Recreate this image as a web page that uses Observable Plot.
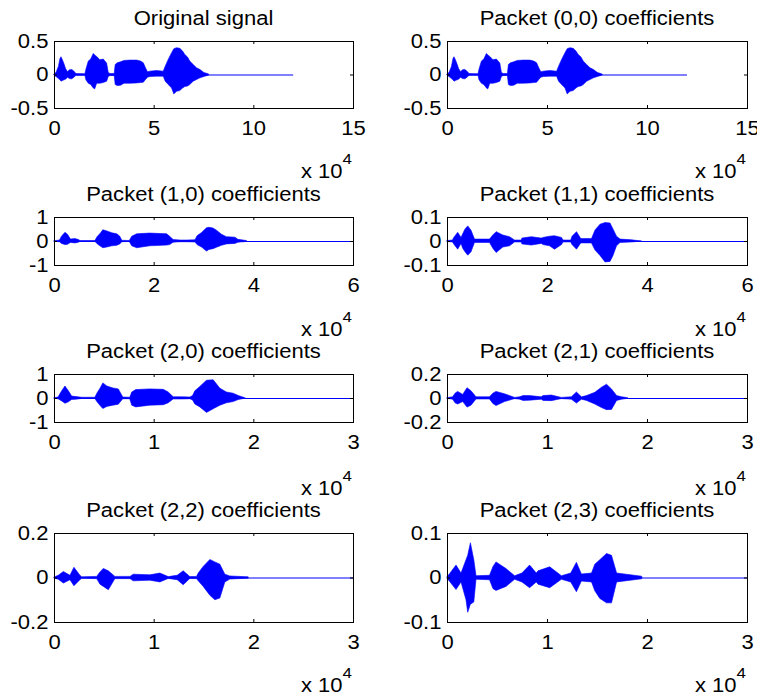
<!DOCTYPE html>
<html><head><meta charset="utf-8">
<script src="https://cdn.jsdelivr.net/npm/d3@7"></script>
<script src="https://cdn.jsdelivr.net/npm/@observablehq/plot@0.6"></script>
<style>
html,body{margin:0;padding:0;background:#fff;}
#root{position:relative;width:757px;height:697px;overflow:hidden;background:#fff;}
#root svg{position:absolute;}
</style></head><body><div id="root"></div>
<script>
// ---------- DATA (x in units of 10^4 samples; envelope of the signal) ----------
const titles = ["Original signal","Packet (0,0) coefficients","Packet (1,0) coefficients","Packet (1,1) coefficients",
                "Packet (2,0) coefficients","Packet (2,1) coefficients","Packet (2,2) coefficients","Packet (2,3) coefficients"];
const xTicksLevel0 = [0,5,10,15];
const xTicksLevel1 = [0,2,4,6];
const xTicksLevel2 = [0,1,2,3];
const yTicksOrig = [-0.5,0,0.5];
const yTicks10 = [-1,0,1];
const yTicks11 = [-0.1,0,0.1];
const yTicks20 = [-1,0,1];
const yTicks21 = [-0.2,0,0.2];
const yTicks22 = [-0.2,0,0.2];
const yTicks23 = [-0.1,0,0.1];
const signalEnds = [12,12,6,6,3,3,3,3];
const exponentLabel = "x 10";
const exponentPower = "4";

const origX  = [0,0.10,0.22,0.30,0.35,0.42,0.50,0.58,0.68,0.77,0.89,1.00,1.10,1.55,1.60,1.72,1.84,1.97,2.04,2.14,2.30,2.47,2.64,2.72,2.81,3.02,3.07,3.17,3.34,3.51,3.81,4.14,4.34,4.48,4.59,4.69,4.81,5.14,5.48,5.58,5.73,5.90,6.01,6.15,6.31,6.45,6.56,6.70,6.81,6.98,7.15,7.32,7.52,7.73,7.78];
const origHi = [0.01,0.03,0.12,0.24,0.265,0.22,0.16,0.09,0.04,0.07,0.075,0.05,0.015,0.012,0.08,0.2,0.23,0.315,0.29,0.27,0.22,0.23,0.17,0.03,0.015,0.015,0.15,0.175,0.19,0.21,0.215,0.215,0.2,0.175,0.1,0.04,0.05,0.06,0.05,0.125,0.225,0.325,0.385,0.4,0.39,0.35,0.3,0.26,0.2,0.15,0.10,0.075,0.03,0.01,0];
const origLo = [-0.01,-0.03,-0.06,-0.08,-0.10,-0.09,-0.08,-0.07,-0.04,-0.06,-0.065,-0.04,-0.012,-0.01,-0.08,-0.13,-0.15,-0.2,-0.215,-0.13,-0.13,-0.12,-0.10,-0.03,-0.015,-0.015,-0.15,-0.165,-0.16,-0.13,-0.13,-0.125,-0.12,-0.115,-0.075,-0.04,-0.03,-0.025,-0.025,-0.1,-0.15,-0.2,-0.29,-0.25,-0.24,-0.2,-0.18,-0.17,-0.15,-0.10,-0.075,-0.05,-0.03,-0.01,0];

const p00X = origX, p00Hi = origHi, p00Lo = origLo;

const p10X  = [0,0.11,0.15,0.22,0.27,0.33,0.42,0.49,0.52,0.82,0.87,0.92,0.98,1.06,1.16,1.26,1.32,1.36,1.51,1.56,1.66,1.92,2.26,2.32,2.39,2.53,2.66,2.83,2.87,2.96,3.06,3.11,3.19,3.26,3.36,3.46,3.63,3.69,3.86,3.87];
const p10Hi = [0.01,0.04,0.2,0.36,0.28,0.08,0.1,0.06,0.02,0.02,0.2,0.3,0.47,0.42,0.34,0.3,0.2,0.03,0.02,0.2,0.3,0.33,0.3,0.2,0.06,0.04,0.04,0.05,0.22,0.35,0.55,0.57,0.54,0.45,0.28,0.18,0.16,0.07,0.02,0];
const p10Lo = [-0.01,-0.03,-0.1,-0.15,-0.14,-0.06,-0.08,-0.05,-0.015,-0.015,-0.12,-0.2,-0.28,-0.25,-0.2,-0.18,-0.12,-0.03,-0.02,-0.2,-0.28,-0.2,-0.17,-0.15,-0.05,-0.03,-0.03,-0.04,-0.15,-0.25,-0.42,-0.35,-0.32,-0.26,-0.18,-0.12,-0.1,-0.05,-0.02,0];

const p11X  = [0,0.11,0.134,0.214,0.28,0.314,0.36,0.415,0.48,0.55,0.85,0.916,0.983,1.117,1.25,1.35,1.485,1.498,1.686,1.886,1.92,2.05,2.15,2.29,2.32,2.475,2.50,2.59,2.675,2.89,2.96,3.06,3.16,3.26,3.32,3.39,3.46,3.69,3.89];
const p11Hi = [0.002,0.004,0.015,0.036,0.015,0.03,0.05,0.063,0.045,0.008,0.008,0.025,0.039,0.025,0.018,0.004,0.004,0.012,0.018,0.012,0.015,0.02,0.022,0.015,0.004,0.004,0.02,0.039,0.01,0.01,0.046,0.07,0.077,0.075,0.05,0.02,0.008,0.005,0];
const p11Lo = [-0.002,-0.004,-0.012,-0.034,-0.01,-0.03,-0.045,-0.059,-0.045,-0.006,-0.006,-0.03,-0.048,-0.025,-0.02,-0.004,-0.004,-0.012,-0.017,-0.01,-0.015,-0.02,-0.034,-0.015,-0.004,-0.004,-0.015,-0.034,-0.008,-0.008,-0.038,-0.06,-0.087,-0.085,-0.06,-0.02,-0.006,-0.004,0];

const p20X  = [0,0.04,0.077,0.11,0.144,0.177,0.22,0.277,0.41,0.43,0.46,0.49,0.53,0.59,0.645,0.69,0.76,0.78,0.82,0.96,1.096,1.146,1.196,1.28,1.363,1.39,1.413,1.463,1.53,1.597,1.664,1.73,1.797,1.85,1.915,1.92];
const p20Hi = [0.01,0.04,0.3,0.5,0.3,0.08,0.06,0.03,0.03,0.2,0.4,0.63,0.5,0.42,0.38,0.04,0.03,0.25,0.35,0.38,0.36,0.25,0.05,0.05,0.04,0.1,0.3,0.48,0.74,0.76,0.41,0.25,0.2,0.1,0.01,0];
const p20Lo = [-0.01,-0.03,-0.12,-0.22,-0.16,-0.06,-0.05,-0.02,-0.02,-0.15,-0.3,-0.44,-0.35,-0.3,-0.26,-0.03,-0.03,-0.3,-0.37,-0.3,-0.28,-0.2,-0.04,-0.04,-0.03,-0.08,-0.25,-0.37,-0.6,-0.45,-0.3,-0.2,-0.15,-0.06,-0.01,0];

const p21X  = [0,0.057,0.08,0.107,0.157,0.2,0.24,0.29,0.425,0.458,0.49,0.575,0.676,0.726,0.76,0.826,0.943,0.96,1.043,1.144,1.244,1.294,1.344,1.395,1.478,1.545,1.595,1.645,1.696,1.746,1.796,1.81];
const p21Hi = [0.003,0.01,0.04,0.055,0.03,0.086,0.06,0.01,0.01,0.04,0.055,0.035,0.005,0.01,0.02,0.02,0.01,0.02,0.025,0.005,0.01,0.05,0.01,0.02,0.047,0.09,0.115,0.075,0.02,0.01,0.004,0];
const p21Lo = [-0.003,-0.01,-0.04,-0.05,-0.03,-0.076,-0.06,-0.008,-0.008,-0.045,-0.063,-0.03,-0.005,-0.01,-0.02,-0.018,-0.01,-0.02,-0.022,-0.005,-0.01,-0.042,-0.01,-0.02,-0.05,-0.08,-0.097,-0.095,-0.02,-0.01,-0.004,0];

const p22X  = [0,0.043,0.094,0.16,0.2,0.26,0.277,0.428,0.461,0.495,0.545,0.611,0.762,0.795,0.962,1.062,1.146,1.236,1.296,1.363,1.43,1.447,1.497,1.564,1.614,1.664,1.714,1.764,1.948,1.95];
const p22Hi = [0.002,0.01,0.027,0.01,0.046,0.01,0.003,0.005,0.025,0.041,0.03,0.005,0.005,0.015,0.012,0.02,0.004,0.01,0.03,0.004,0.005,0.02,0.05,0.081,0.07,0.06,0.015,0.007,0.003,0];
const p22Lo = [-0.002,-0.008,-0.025,-0.01,-0.037,-0.01,-0.003,-0.005,-0.03,-0.04,-0.055,-0.005,-0.005,-0.015,-0.012,-0.02,-0.004,-0.01,-0.033,-0.004,-0.005,-0.015,-0.04,-0.08,-0.1,-0.092,-0.02,-0.007,-0.003,0];

const p23X  = [0,0.023,0.09,0.14,0.19,0.207,0.234,0.268,0.29,0.425,0.46,0.49,0.59,0.676,0.749,0.826,0.893,0.91,1.027,1.144,1.237,1.294,1.344,1.445,1.478,1.528,1.595,1.645,1.696,1.946,1.95];
const p23Hi = [0.002,0.008,0.028,0.01,0.04,0.05,0.078,0.04,0.004,0.005,0.025,0.035,0.02,0.004,0.01,0.028,0.01,0.015,0.024,0.004,0.01,0.034,0.008,0.01,0.03,0.04,0.054,0.05,0.01,0.003,0];
const p23Lo = [-0.002,-0.008,-0.027,-0.01,-0.05,-0.078,-0.06,-0.055,-0.004,-0.005,-0.025,-0.029,-0.02,-0.004,-0.01,-0.023,-0.01,-0.015,-0.023,-0.004,-0.01,-0.032,-0.008,-0.01,-0.03,-0.047,-0.057,-0.057,-0.01,-0.003,0];

// ---------- LAYOUT ----------
const FONT = "'Liberation Sans', Arial, Helvetica, sans-serif";
const FS = 19.5, SX = 1.13;
const frames = [
  {fx:54, fy:41, fw:299, fh:67, exp:178}, {fx:447, fy:41, fw:300, fh:67, exp:178},
  {fx:54, fy:217, fw:299, fh:48, exp:336}, {fx:447, fy:217, fw:300, fh:48, exp:336},
  {fx:54, fy:374, fw:299, fh:48, exp:495}, {fx:447, fy:374, fw:300, fh:48, exp:495},
  {fx:54, fy:533, fw:299, fh:89, exp:692}, {fx:447, fy:533, fw:300, fh:89, exp:692}
];
const panels = [
  {x:origX, hi:origHi, lo:origLo, xTicks:xTicksLevel0, yTicks:yTicksOrig},
  {x:p00X, hi:p00Hi, lo:p00Lo, xTicks:xTicksLevel0, yTicks:yTicksOrig},
  {x:p10X, hi:p10Hi, lo:p10Lo, xTicks:xTicksLevel1, yTicks:yTicks10},
  {x:p11X, hi:p11Hi, lo:p11Lo, xTicks:xTicksLevel1, yTicks:yTicks11},
  {x:p20X, hi:p20Hi, lo:p20Lo, xTicks:xTicksLevel2, yTicks:yTicks20},
  {x:p21X, hi:p21Hi, lo:p21Lo, xTicks:xTicksLevel2, yTicks:yTicks21},
  {x:p22X, hi:p22Hi, lo:p22Lo, xTicks:xTicksLevel2, yTicks:yTicks22},
  {x:p23X, hi:p23Hi, lo:p23Lo, xTicks:xTicksLevel2, yTicks:yTicks23}
];

const root = document.getElementById("root");
const BLUE = "#0000ff";
panels.forEach((p, i) => {
  const f = frames[i];
  const ml = 60, mr = 15, mt = 5, mb = 40;
  const env = p.x.map((x, k) => ({x, hi: p.hi[k], lo: p.lo[k]}));
  const xT = p.xTicks, yT = p.yTicks;
  const plot = Plot.plot({
    width: f.fw + ml + mr, height: f.fh + mt + mb,
    marginLeft: ml, marginRight: mr, marginTop: mt, marginBottom: mb,
    style: {fontFamily: FONT, fontSize: FS + "px", background: "transparent", overflow: "visible", color: "black"},
    x: {domain: [xT[0], xT[xT.length - 1]], label: null},
    y: {domain: [yT[0], yT[yT.length - 1]], label: null},
    marks: [
      Plot.ruleY([{x1: 0, x2: signalEnds[i], y: 0}], {x1: "x1", x2: "x2", y: "y", stroke: BLUE, strokeWidth: 1}),
      Plot.areaY(env, {x: "x", y1: "lo", y2: "hi", fill: BLUE, stroke: BLUE, strokeWidth: 0.6}),
      Plot.tickX(xT, {x: d => d, stroke: "black", insetTop: f.fh - 3}),
      Plot.tickX(xT, {x: d => d, stroke: "black", insetBottom: f.fh - 3}),
      Plot.tickY(yT, {y: d => d, stroke: "black", insetRight: f.fw - 3}),
      Plot.tickY(yT, {y: d => d, stroke: "black", insetLeft: f.fw - 3}),
      Plot.frame({stroke: "black"}),
      Plot.axisX(xT, {tickSize: 0, tickPadding: 13, tickFormat: d => String(d), label: null}),
      Plot.axisY(yT, {tickSize: 0, tickPadding: 6, tickFormat: d => String(d), label: null})
    ]
  });
  plot.style.left = (f.fx - ml) + "px";
  plot.style.top = (f.fy - mt) + "px";
  d3.select(plot).selectAll("text").each(function () {
    const t = this.getAttribute("transform") || "";
    this.setAttribute("transform", t + ` scale(${SX},1)`);
  });
  root.appendChild(plot);
});

// titles and exponent labels
const ov = d3.select(root).append("svg")
  .attr("width", 757).attr("height", 697)
  .style("left", "0px").style("top", "0px")
  .style("font-family", FONT).style("pointer-events", "none");
frames.forEach((f, i) => {
  ov.append("text")
    .attr("transform", `translate(${f.fx + f.fw / 2},${f.fy - 16}) scale(${SX},1)`)
    .attr("text-anchor", "middle").attr("font-size", FS).attr("fill", "black")
    .text(titles[i]);
  const t = ov.append("text")
    .attr("transform", `translate(${f.fx + f.fw - 1},${f.exp}) scale(${SX},1)`)
    .attr("text-anchor", "end").attr("font-size", FS).attr("fill", "black");
  t.append("tspan").text(exponentLabel);
  t.append("tspan").attr("dy", -14).attr("font-size", 15).text(exponentPower);
});
</script></body></html>
